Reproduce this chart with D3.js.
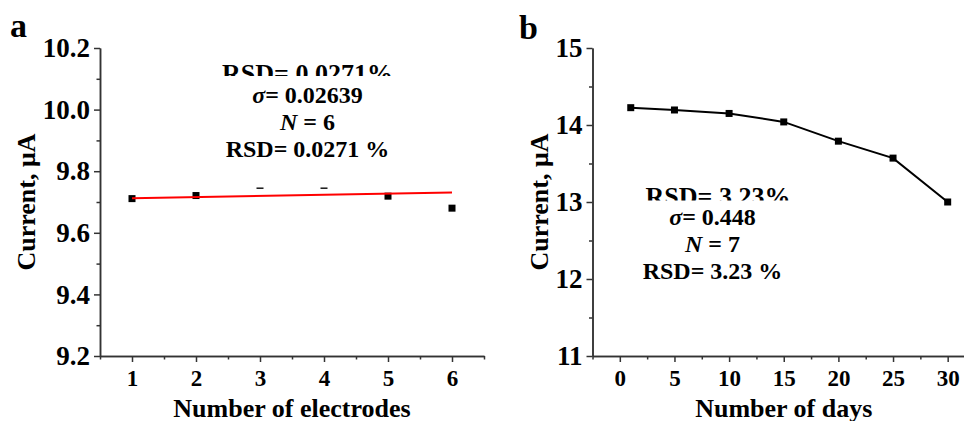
<!DOCTYPE html>
<html>
<head>
<meta charset="utf-8">
<script src="https://cdn.jsdelivr.net/npm/d3@7"></script>
<style>
  body { margin: 0; background: #fff; }
  svg { display: block; font-family: "Liberation Serif", "Times New Roman", serif; font-weight: bold; }
  .axis path, .axis line { stroke: #333; stroke-width: 1.5; }
  .axis text { fill: #000; font-family: "Liberation Serif", "Times New Roman", serif; font-weight: bold; }
</style>
</head>
<body>
<svg id="chart" width="964" height="421"></svg>
<script>
// panel a: reproducibility between electrodes
const electrodes = [1, 2, 3, 4, 5, 6];
const electrodeCurrent = [9.711, 9.721, 9.754, 9.754, 9.719, 9.680];
const fitX = [1, 6];
const fitCurrent = [9.712, 9.731];
const electrodeTicks = [1, 2, 3, 4, 5, 6];
const electrodeMinor = [0.5, 1.5, 2.5, 3.5, 4.5, 5.5, 6.5];
const currentTicksA = [9.2, 9.4, 9.6, 9.8, 10.0, 10.2];
const currentMinorA = [9.3, 9.5, 9.7, 9.9, 10.1];
const statsA = ['σ', '= 0.02639', 'N', ' = 6', 'RSD= 0.0271 %'];
const staleA = 'RSD= 0.0271%';

// panel b: stability over days
const days = [1, 5, 10, 15, 20, 25, 30];
const dayCurrent = [14.225, 14.195, 14.15, 14.04, 13.79, 13.57, 13.00];
const dayTicks = [0, 5, 10, 15, 20, 25, 30];
const dayMinor = [-2.5, 2.5, 7.5, 12.5, 17.5, 22.5, 27.5, 32.5];
const currentTicksB = [11, 12, 13, 14, 15];
const currentMinorB = [11.5, 12.5, 13.5, 14.5];
const statsB = ['σ', '= 0.448', 'N', ' = 7', 'RSD= 3.23 %'];
const staleB = 'RSD= 3.23%';

const yLabel = 'Current, μA';

const svg = d3.select('#chart');

function panel(opt) {
  const g = svg.append('g');
  const x = d3.scaleLinear().domain(opt.xDomain).range(opt.xRange);
  const y = d3.scaleLinear().domain(opt.yDomain).range([356, 48]);

  // minor ticks first, then major axes
  g.append('g').attr('class', 'axis')
    .attr('transform', `translate(0,${y.range()[0]})`)
    .call(d3.axisBottom(x).tickValues(opt.xMinor).tickSize(3.5).tickSizeOuter(0).tickFormat(''));
  g.append('g').attr('class', 'axis')
    .attr('transform', `translate(${x.range()[0]},0)`)
    .call(d3.axisLeft(y).tickValues(opt.yMinor).tickSize(3.5).tickSizeOuter(0).tickFormat(''));

  g.append('g').attr('class', 'axis')
    .attr('transform', `translate(0,${y.range()[0]})`)
    .call(d3.axisBottom(x).tickValues(opt.xTicks).tickSize(6).tickPadding(8).tickSizeOuter(0).tickFormat(d3.format('d')))
    .selectAll('text').style('font-size', '23px');
  g.append('g').attr('class', 'axis')
    .attr('transform', `translate(${x.range()[0]},0)`)
    .call(d3.axisLeft(y).tickValues(opt.yTicks).tickSize(6).tickPadding(4).tickSizeOuter(0).tickFormat(opt.yFormat))
    .selectAll('text').style('font-size', '27px');

  // axis titles
  g.append('text')
    .attr('x', (x.range()[0] + x.range()[1]) / 2)
    .attr('y', 417)
    .attr('text-anchor', 'middle')
    .style('font-size', '26px')
    .text(opt.xTitle);
  g.append('text')
    .attr('transform', `translate(${opt.yTitleX},${(y.range()[0] + y.range()[1]) / 2}) rotate(-90)`)
    .attr('text-anchor', 'middle')
    .style('font-size', '26px')
    .text(yLabel);

  // panel letter
  g.append('text')
    .attr('x', opt.letterX).attr('y', opt.letterY)
    .style('font-size', '34px')
    .text(opt.letter);

  return { g, x, y };
}

function stats(g, cx, base, lines, stale, box) {
  // an older copy of the label sits under the white text box
  g.append('text')
    .attr('x', cx + stale.dx).attr('y', stale.y)
    .attr('text-anchor', 'middle')
    .style('font-size', '26px')
    .text(stale.text);
  g.append('rect')
    .attr('x', box[0]).attr('y', box[1])
    .attr('width', box[2]).attr('height', box[3])
    .attr('fill', '#fff');

  const t1 = g.append('text').attr('x', cx).attr('y', base).attr('text-anchor', 'middle').style('font-size', '24px');
  t1.append('tspan').style('font-style', 'italic').text(lines[0]);
  t1.append('tspan').text(lines[1]);
  const t2 = g.append('text').attr('x', cx).attr('y', base + 27).attr('text-anchor', 'middle').style('font-size', '24px');
  t2.append('tspan').style('font-style', 'italic').text(lines[2]);
  t2.append('tspan').text(lines[3]);
  g.append('text').attr('x', cx).attr('y', base + 54).attr('text-anchor', 'middle').style('font-size', '24px').text(lines[4]);
}

// ---- panel a
const a = panel({
  xDomain: [0.5, 6.5], xRange: [100, 484],
  yDomain: [9.2, 10.2],
  xTicks: electrodeTicks, xMinor: electrodeMinor,
  yTicks: currentTicksA, yMinor: currentMinorA,
  yFormat: d3.format('.1f'),
  xTitle: 'Number of electrodes',
  yTitleX: 35, letter: 'a', letterX: 10, letterY: 37
});

a.g.append('g').selectAll('rect')
  .data(electrodes.map((d, i) => [d, electrodeCurrent[i]]))
  .join('rect')
  .attr('x', d => a.x(d[0]) - 3.5)
  .attr('y', d => a.y(d[1]) - 3.5)
  .attr('width', 7).attr('height', 7)
  .attr('fill', '#000');

a.g.append('path')
  .datum(fitX.map((d, i) => [d, fitCurrent[i]]))
  .attr('fill', 'none')
  .attr('stroke', '#f00')
  .attr('stroke-width', 2)
  .attr('d', d3.line().x(d => a.x(d[0])).y(d => a.y(d[1])));

stats(a.g, 307.5, 102.7, statsA, { text: staleA, y: 82, dx: 0 }, [214, 76, 186, 111.5]);

// ---- panel b
const b = panel({
  xDomain: [-2.5, 32.5], xRange: [592.5, 975],
  yDomain: [11, 15],
  xTicks: dayTicks, xMinor: dayMinor,
  yTicks: currentTicksB, yMinor: currentMinorB,
  yFormat: d3.format('d'),
  xTitle: 'Number of days',
  yTitleX: 548, letter: 'b', letterX: 519, letterY: 39
});

b.g.append('path')
  .datum(days.map((d, i) => [d, dayCurrent[i]]))
  .attr('fill', 'none')
  .attr('stroke', '#000')
  .attr('stroke-width', 2)
  .attr('d', d3.line().x(d => b.x(d[0])).y(d => b.y(d[1])));

b.g.append('g').selectAll('rect')
  .data(days.map((d, i) => [d, dayCurrent[i]]))
  .join('rect')
  .attr('x', d => b.x(d[0]) - 3.5)
  .attr('y', d => b.y(d[1]) - 3.5)
  .attr('width', 7).attr('height', 7)
  .attr('fill', '#000');

stats(b.g, 712.5, 225, statsB, { text: staleB, y: 205, dx: 5.5 }, [636, 200.5, 164, 90]);
</script>
</body>
</html>
